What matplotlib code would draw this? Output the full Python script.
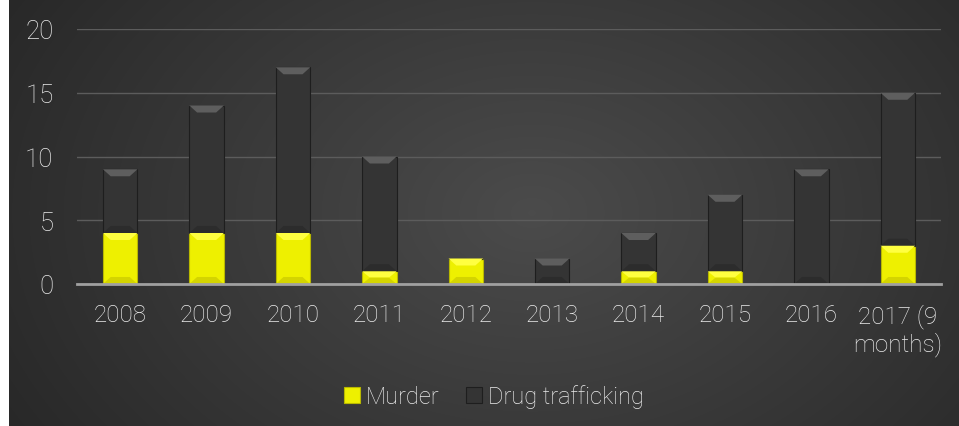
import numpy as np
import matplotlib
matplotlib.use("Agg")
import matplotlib.pyplot as plt
from matplotlib.patches import Polygon

categories = ["2008", "2009", "2010", "2011", "2012", "2013", "2014", "2015", "2016", "2017 (9\nmonths)"]
murder = [4, 4, 4, 1, 2, 0, 1, 1, 0, 3]
drug = [5, 10, 13, 9, 0, 2, 3, 6, 9, 12]
yticks = [0, 5, 10, 15, 20]

plt.rcParams['font.family'] = ['Roboto', 'DejaVu Sans']
FW = 'light'
TXT = '#ececec'
W, H = 959, 427
fig = plt.figure(figsize=(W / 100, H / 100), dpi=100, facecolor='white')

# radial gradient background (left 9px strip stays white)
x0 = 9 / W
bg = fig.add_axes([x0, 0, 1 - x0, 1], zorder=-10)
Wb = W - 9
yy, xx = np.mgrid[0:H, 0:Wb]
r = np.sqrt(((xx - Wb * 0.55) / (Wb * 0.6)) ** 2 + ((yy - H * 0.5) / (H * 0.95)) ** 2)
val = 0.295 - 0.13 * np.clip(r, 0, 1.2)
bg.imshow(np.dstack([val, val, val]), aspect='auto', extent=[0, 1, 0, 1])
bg.set_axis_off()

ax = fig.add_axes([77 / W, 1 - 285 / H, (941 - 77) / W, (285 - 30) / H])
ax.patch.set_alpha(0)
x = np.arange(len(categories))
w = 0.4
m = np.array(murder, float)
d = np.array(drug, float)

yel = ax.bar(x, m, w, color='#eef000', edgecolor='#b8b800', linewidth=0.8, zorder=3, label='Murder')
drk = ax.bar(x, d, w, bottom=m, color='#343434', edgecolor='#1e1e1e', linewidth=0.8, zorder=3, label='Drug trafficking')

# bevel highlights
dx = 0.09
dy = 0.55
for xi, mi, di in zip(x, m, d):
    if di > 0:
        top = mi + di
        h = min(dy, di / 2)
        ax.add_patch(Polygon([[xi - w / 2, top], [xi + w / 2, top], [xi + w / 2 - dx, top - h], [xi - w / 2 + dx, top - h]],
                             closed=True, facecolor='#5e5e5e', edgecolor='none', zorder=4))
        ax.add_patch(Polygon([[xi - w / 2, mi], [xi + w / 2, mi], [xi + w / 2 - dx, mi + h], [xi - w / 2 + dx, mi + h]],
                             closed=True, facecolor='#2c2c2c', edgecolor='none', zorder=4))
    if mi > 0:
        h = min(dy, mi / 2)
        ax.add_patch(Polygon([[xi - w / 2, mi], [xi + w / 2, mi], [xi + w / 2 - dx, mi - h], [xi - w / 2 + dx, mi - h]],
                             closed=True, facecolor='#ffff40', edgecolor='none', zorder=4))
        ax.add_patch(Polygon([[xi - w / 2, 0], [xi + w / 2, 0], [xi + w / 2 - dx, h], [xi - w / 2 + dx, h]],
                             closed=True, facecolor='#d4d400', edgecolor='none', zorder=4))

ax.set_xlim(-0.5, len(categories) - 0.5)
ax.set_ylim(0, 20)
ax.set_yticks(yticks)
ax.yaxis.grid(True, color='#5c5c5c', linewidth=1)
ax.set_axisbelow(True)
for s in ['top', 'right', 'left']:
    ax.spines[s].set_visible(False)
ax.spines['bottom'].set_color('#a0a0a0')
ax.spines['bottom'].set_linewidth(2)
ax.spines['bottom'].set_zorder(5)
ax.set_xticks(x)
ax.set_xticklabels(categories, fontsize=17.5, color=TXT, linespacing=1.15, fontweight=FW)
ax.tick_params(axis='both', length=0, colors=TXT)
ax.tick_params(axis='x', pad=14)
ax.tick_params(axis='y', pad=17)
for lab in ax.get_yticklabels():
    lab.set_fontsize(18.5)
    lab.set_fontweight(FW)

leg = fig.legend(handles=[yel, drk], labels=['Murder', 'Drug trafficking'], loc='center',
                 bbox_to_anchor=(494 / W, 1 - 397 / H), ncol=2, frameon=False,
                 prop={'size': 17, 'weight': FW, 'family': ['Roboto', 'DejaVu Sans']},
                 handlelength=0.65, handleheight=0.65, handletextpad=0.25, columnspacing=1.15,
                 labelcolor=TXT)

fig.savefig('out.png', dpi=100, facecolor='white')
